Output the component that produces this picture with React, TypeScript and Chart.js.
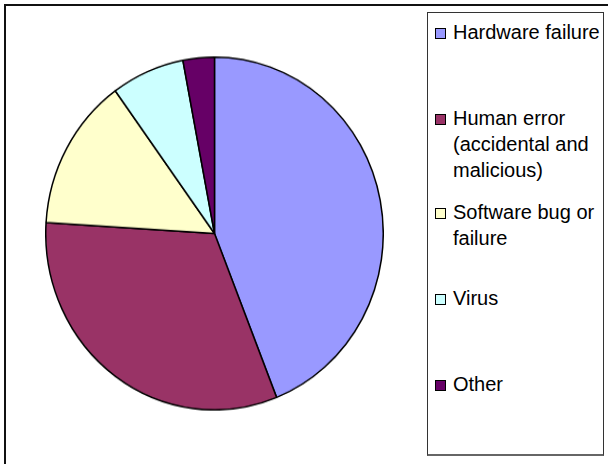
import React, { useEffect, useRef } from "react";
import { Chart, registerables } from "chart.js";

Chart.register(...registerables);

const categories = [
  "Hardware failure",
  "Human error (accidental and malicious)",
  "Software bug or failure",
  "Virus",
  "Other",
];
const shares = [44, 32, 14, 7, 3];
const sliceColors = ["#9999FF", "#993366", "#FFFFCC", "#CCFFFF", "#660066"];

// legend entry first-line centre (layout)
const legendTops = [31, 117, 211, 297, 383];

export default function App() {
  const ref = useRef<HTMLCanvasElement | null>(null);

  useEffect(() => {
    if (!ref.current) return;
    const chart = new Chart(ref.current, {
      type: "pie",
      data: {
        labels: categories,
        datasets: [
          {
            data: shares,
            backgroundColor: sliceColors,
            borderColor: "#000000",
            borderWidth: 1.5,
          },
        ],
      },
      options: {
        responsive: false,
        animation: false,
        layout: { padding: 0 },
        plugins: {
          legend: { display: false },
          tooltip: { enabled: false },
        },
      },
    });
    return () => chart.destroy();
  }, []);

  return (
    <div
      style={{
        position: "fixed",
        left: 0,
        top: 0,
        width: 608,
        height: 464,
        background: "#fff",
        overflow: "hidden",
      }}
    >
      <div
        style={{
          position: "absolute",
          left: 4,
          top: 4,
          width: 800,
          height: 800,
          borderLeft: "2px solid #111",
          borderTop: "2px solid #111",
        }}
      />
      <div
        style={{
          position: "absolute",
          left: 45,
          top: 64,
          width: 339,
          height: 339,
          transform: "scaleY(1.045)",
          transformOrigin: "50% 50%",
        }}
      >
        <canvas ref={ref} width={339} height={339} style={{ display: "block" }} />
      </div>
      <div
        style={{
          position: "absolute",
          left: 427,
          top: 12,
          width: 177,
          height: 444,
          boxSizing: "border-box",
          border: "1px solid #333",
          borderBottom: "2px solid #666",
          background: "#fff",
        }}
      >
        {categories.map((c, i) => (
          <div
            key={c}
            style={{
              position: "absolute",
              left: 7,
              top: legendTops[i] - 12 - 13,
              display: "flex",
              alignItems: "flex-start",
            }}
          >
            <div
              style={{
                width: 9,
                height: 9,
                marginTop: 9,
                border: "1px solid #000",
                background: sliceColors[i],
                flex: "0 0 auto",
              }}
            />
            <div
              style={{
                marginLeft: 7,
                width: 150,
                fontFamily: "'Liberation Sans', Arial, sans-serif",
                fontSize: 20,
                lineHeight: "26px",
                color: "#000",
              }}
            >
              {c}
            </div>
          </div>
        ))}
      </div>
    </div>
  );
}
